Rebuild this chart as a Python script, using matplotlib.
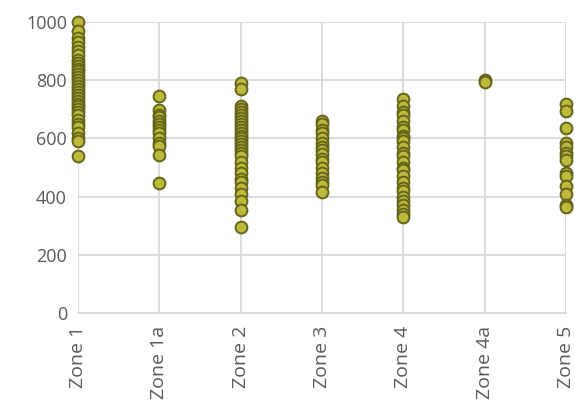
#!/usr/bin/env python3

"""
Strip plot of readings per zone, drawn as a marker-only category chart.
"""

import matplotlib
matplotlib.use("Agg")
import matplotlib.pyplot as plt

zones = ["Zone 1", "Zone 1a", "Zone 2", "Zone 3", "Zone 4", "Zone 4a", "Zone 5"]

zone_1 = [1000, 968, 945, 930, 915, 900, 885, 870, 860, 850, 840, 830, 820, 810,
          800, 790, 780, 770, 760, 750, 740, 730, 720, 710, 700, 690, 680, 665,
          650, 640, 620, 600, 590, 540]
zone_1a = [745, 697, 680, 673, 660, 650, 640, 630, 619, 600, 584, 575, 543, 447]
zone_2 = [790, 770, 710, 700, 690, 680, 670, 660, 650, 640, 630, 620, 610, 600,
          590, 580, 570, 560, 550, 540, 520, 500, 480, 460, 450, 430, 410, 385,
          355, 295]
zone_3 = [660, 650, 630, 620, 600, 585, 570, 560, 545, 530, 520, 500, 480, 465,
          450, 440, 415]
zone_4 = [735, 710, 690, 680, 660, 640, 630, 610, 600, 590, 570, 550, 540, 520,
          500, 490, 470, 450, 430, 420, 400, 385, 370, 355, 340, 330]
zone_4a = [800, 795]
zone_5 = [720, 695, 635, 585, 570, 550, 540, 525, 480, 470, 435, 410, 370, 365]

series = [zone_1, zone_1a, zone_2, zone_3, zone_4, zone_4a, zone_5]

plt.rcParams["font.family"] = ["Open Sans", "DejaVu Sans"]

fig = plt.figure(figsize=(5.75, 4.08), dpi=100)
ax = fig.add_axes([0.1357, 0.2328, 0.8486, 0.7132])

for i, values in enumerate(series):
    ax.plot([i] * len(values), values, linestyle="none", marker="o",
            markersize=8.5, markerfacecolor="#BDB93B",
            markeredgecolor="#65641B", markeredgewidth=1.4, zorder=3,
            clip_on=False)

ax.set_xlim(0, len(zones) - 1)
ax.set_ylim(0, 1000)
ax.set_yticks([0, 200, 400, 600, 800, 1000])
ax.set_xticks(range(len(zones)))
ax.set_xticklabels(zones, rotation=90, ha="center", va="top")

ax.grid(True, color="#D9D9D9", linewidth=1.3)
ax.set_axisbelow(True)
for side in ["top", "left", "right"]:
    ax.spines[side].set_visible(False)
ax.spines["bottom"].set_color("#D9D9D9")
ax.spines["bottom"].set_linewidth(1.3)

ax.tick_params(axis="both", length=0, colors="#595959")
ax.tick_params(axis="x", pad=9, labelsize=14)
ax.tick_params(axis="y", pad=8, labelsize=13)

fig.savefig("out.png", dpi=100)
